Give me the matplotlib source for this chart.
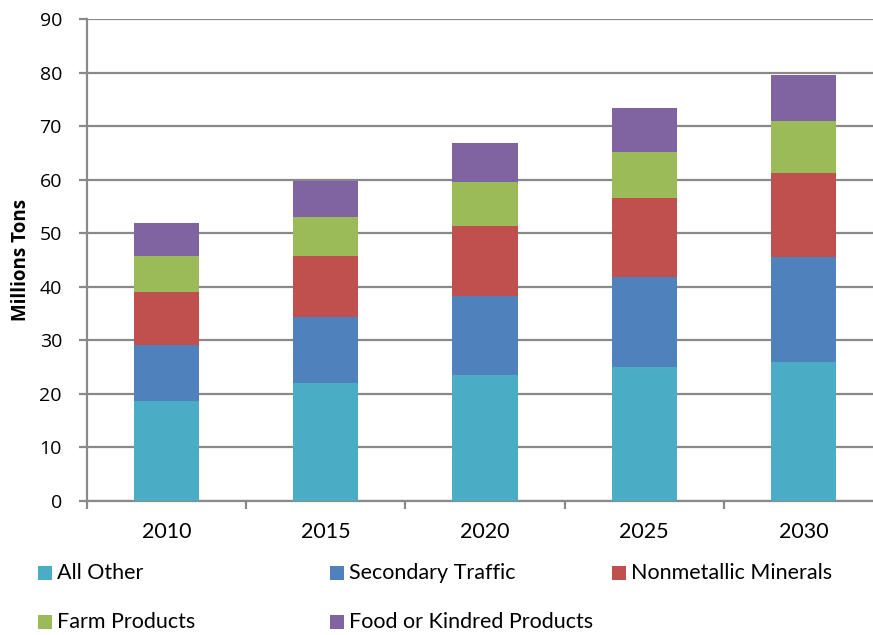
import matplotlib.pyplot as plt
from matplotlib.patches import Rectangle
import numpy as np

years = ["2010", "2015", "2020", "2025", "2030"]
series = ["All Other", "Secondary Traffic", "Nonmetallic Minerals",
          "Farm Products", "Food or Kindred Products"]
all_other = [18.6, 22.0, 23.5, 25.1, 26.0]
secondary_traffic = [10.5, 12.4, 14.7, 16.8, 19.6]
nonmetallic_minerals = [10.0, 11.4, 13.2, 14.6, 15.6]
farm_products = [6.7, 7.3, 8.2, 8.7, 9.7]
food_kindred = [6.1, 6.7, 7.3, 8.2, 8.6]
colors = ["#4BACC6", "#4F81BD", "#C0504D", "#9BBB59", "#8064A2"]

values = [all_other, secondary_traffic, nonmetallic_minerals, farm_products, food_kindred]
grid_gray = "#898989"
narrow = "Lato"

fig = plt.figure(figsize=(8.73, 6.35), dpi=100)
ax = fig.add_axes([87 / 873, 134 / 635, 796 / 873, 482 / 635])

x = np.arange(len(years))
bottom = np.zeros(len(years))
for vals, col in zip(values, colors):
    ax.bar(x, vals, width=0.41, bottom=bottom, color=col, zorder=3)
    bottom += np.array(vals)

ax.set_xlim(-0.5, 4.5)
ax.set_ylim(0, 90)
ax.set_yticks(range(0, 91, 10))
ax.yaxis.grid(True, color=grid_gray, linewidth=1.6, zorder=0)
ax.set_axisbelow(True)

for side in ["top", "right"]:
    ax.spines[side].set_visible(False)
for side in ["left", "bottom"]:
    ax.spines[side].set_color(grid_gray)
    ax.spines[side].set_linewidth(1.6)

ax.set_xticks(x)
ax.set_xticklabels(years)
ax.set_xticks(np.arange(-0.5, 4.6, 1), minor=True)
ax.tick_params(axis="x", which="major", length=0, pad=15,
               labelsize=15.5, labelfontfamily=narrow)
ax.tick_params(axis="x", which="minor", length=6, width=1.6, color=grid_gray)
ax.tick_params(axis="y", length=6, width=1.6, color=grid_gray, pad=12,
               labelsize=14, labelfontfamily="Open Sans")

ax.set_ylabel("Millions Tons", family="Open Sans", fontweight="bold", fontsize=13.5, labelpad=6)

# legend drawn by hand in two rows of three columns
legend_pos = [(38, 573), (330, 573), (612, 573), (38, 622), (330, 622)]
for name, col, (px, py) in zip(series, colors, legend_pos):
    fig.patches.append(Rectangle((px / 873, (635 - py - 7) / 635), 14 / 873, 14 / 635,
                                 transform=fig.transFigure, facecolor=col, edgecolor="none"))
    fig.text((px + 19) / 873, (635 - py) / 635, name, family=narrow, fontsize=15.5,
             va="center", ha="left")

plt.savefig("out.png", dpi=100)
